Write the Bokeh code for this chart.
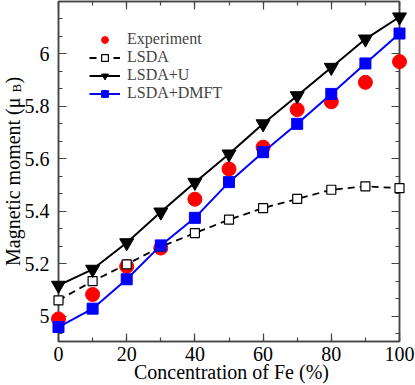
import math
from bokeh.plotting import figure
from bokeh.models import (Range1d, LinearAxis, SingleIntervalTicker, CustomJSTickFormatter,
                          Legend, LegendItem)
from bokeh.core.properties import value
from bokeh.embed import file_html
from bokeh.resources import INLINE

# ---- data ----
fe_conc = [0, 10, 20, 30, 40, 50, 60, 70, 80, 90, 100]
experiment = [4.99, 5.083, 5.19, 5.26, 5.446, 5.561, 5.644, 5.787, 5.817, 5.891, 5.970]
lsda = [5.061, 5.134, 5.198, 5.265, 5.317, 5.368, 5.412, 5.447, 5.482, 5.495, 5.488]
lsda_u = [5.118, 5.179, 5.28, 5.397, 5.51, 5.618, 5.733, 5.84, 5.948, 6.056, 6.14]
lsda_dmft = [4.959, 5.029, 5.141, 5.27, 5.375, 5.511, 5.625, 5.733, 5.847, 5.963, 6.077]

x_label = "Concentration of Fe (%)"
y_label_main = "Magnetic moment  (\u03bc"
y_label_sub = "B"
y_label_end = ")"
series_names = ["Experiment", "LSDA", "LSDA+U", "LSDA+DMFT"]

FONT = "'Liberation Serif', serif"
AX = "#444444"

X0, X1 = 0, 100
Y0, Y1 = 4.904, 6.199

p = figure(width=415, height=385, output_backend="svg", toolbar_location=None,
           x_range=Range1d(X0, X1), y_range=Range1d(Y0, Y1),
           min_border_left=58, min_border_right=16, min_border_top=1, min_border_bottom=44)
p.grid.visible = False
p.outline_line_color = AX
p.outline_line_width = 1.5
p.background_fill_color = "white"
p.border_fill_color = "white"

ytick_fmt = CustomJSTickFormatter(code="return String(Number(tick.toFixed(1)));")
blank_fmt = CustomJSTickFormatter(code="return '';")

def style_axis(ax, labels=True):
    ax.major_tick_in = 8
    ax.major_tick_out = 0
    ax.minor_tick_in = 4
    ax.minor_tick_out = 0
    ax.axis_line_color = AX
    ax.axis_line_width = 1.5
    ax.major_tick_line_color = AX
    ax.major_tick_line_width = 1.2
    ax.minor_tick_line_color = AX
    ax.minor_tick_line_width = 1.2
    ax.major_label_text_font = FONT
    ax.major_label_text_color = "black"
    ax.major_label_text_font_size = "20px"
    if not labels:
        ax.formatter = blank_fmt
        ax.major_label_standoff = 0

xaxis = p.xaxis[0]
xaxis.ticker = SingleIntervalTicker(interval=20, num_minor_ticks=2)
style_axis(xaxis)
xaxis.major_label_standoff = 5

yaxis = p.yaxis[0]
yaxis.ticker = SingleIntervalTicker(interval=0.2, num_minor_ticks=3)
yaxis.formatter = ytick_fmt
style_axis(yaxis)
yaxis.major_label_standoff = 9

top = LinearAxis(ticker=SingleIntervalTicker(interval=20, num_minor_ticks=2))
style_axis(top, labels=False)
p.add_layout(top, "above")
right = LinearAxis(ticker=SingleIntervalTicker(interval=0.2, num_minor_ticks=3))
style_axis(right, labels=False)
p.add_layout(right, "right")

# ---- series ----
r_exp = p.scatter(fe_conc, experiment, marker="circle", size=14,
                  fill_color="#ff0000", line_color="#ff0000", level="annotation")

l_lsda = p.line(fe_conc, lsda, line_color="black", line_width=1.8, line_dash="7 5",
                level="annotation")
s_lsda = p.scatter(fe_conc, lsda, marker="square", size=9, fill_color="white",
                   line_color="black", line_width=1.2, level="annotation")

l_u = p.line(fe_conc, lsda_u, line_color="black", line_width=2, level="annotation")
s_u = p.scatter(fe_conc, lsda_u, marker="inverted_triangle", size=14, fill_color="black",
                line_color="black", level="annotation")

l_d = p.line(fe_conc, lsda_dmft, line_color="#0000ff", line_width=2, level="annotation")
s_d = p.scatter(fe_conc, lsda_dmft, marker="square", size=11, fill_color="#0000ff",
                line_color="#0000ff", level="annotation")

legend = Legend(items=[
    LegendItem(label=series_names[0], renderers=[r_exp]),
    LegendItem(label=series_names[1], renderers=[l_lsda, s_lsda]),
    LegendItem(label=series_names[2], renderers=[l_u, s_u]),
    LegendItem(label=series_names[3], renderers=[l_d, s_d]),
], location=(31, 239), margin=0, padding=0, spacing=0,
   glyph_width=31, glyph_height=17, label_height=17, label_standoff=7,
   label_text_font=FONT, label_text_font_size="16px",
   background_fill_alpha=0, border_line_alpha=0)
p.add_layout(legend)

# ---- axis titles as text glyphs (unclipped, outside the frame) ----
PX_X = (X1 - X0) / 341.0      # data units per pixel, x
PX_Y = (Y1 - Y0) / 340.0      # data units per pixel, y

p.text(x=[(X0 + X1) / 2 + 2.5 * PX_X], y=[Y0 - 30 * PX_Y], text=[x_label],
       text_align="center", text_baseline="alphabetic",
       text_font=value(FONT), text_font_size="20px", text_color="black",
       level="annotation")

ang = math.pi / 2
p.text(x=[X0 - 46 * PX_X], y=[Y0 + 249 * PX_Y], text=[y_label_main], angle=ang,
       text_align="right", text_baseline="alphabetic",
       text_font=value(FONT), text_font_size="20px", text_color="black",
       level="annotation")
p.text(x=[X0 - 42 * PX_X], y=[Y0 + 249 * PX_Y], text=[y_label_sub], angle=ang,
       text_align="left", text_baseline="alphabetic",
       text_font=value(FONT), text_font_size="13px", text_color="black",
       level="annotation")
p.text(x=[X0 - 46 * PX_X], y=[Y0 + 258 * PX_Y], text=[y_label_end], angle=ang,
       text_align="left", text_baseline="alphabetic",
       text_font=value(FONT), text_font_size="20px", text_color="black",
       level="annotation")

open("out.html", "w").write(file_html(p, INLINE))
